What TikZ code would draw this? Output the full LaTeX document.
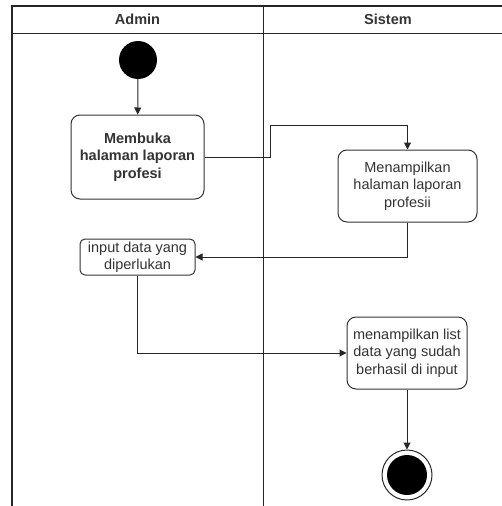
\documentclass[tikz,border=0pt]{standalone}
\usepackage{fontspec}
\setmainfont{Liberation Sans}
\usetikzlibrary{arrows.meta}
\tikzset{
  lane/.style={draw=black!85,line width=1pt},
  act/.style={draw=black!80,line width=1pt,rounded corners=9pt,align=center,
    inner sep=0pt,text=black!80,font=\fontsize{14.5}{17.5}\selectfont},
  flow/.style={draw=black!85,line width=1pt,-{Triangle[length=7pt,width=7pt]}},
}
\begin{document}
\begin{tikzpicture}[x=1pt,y=-1pt]
        \useasboundingbox (0,0) rectangle (502,506);
        %% swimlanes
        \draw[lane,line width=1.4pt] (12,506) -- (12,6) -- (502,6);
        \draw[lane] (12,33) -- (502,33);
        \draw[lane] (263,6) -- (263,506);
        \node[text=black!80,font=\bfseries\fontsize{14.5}{17}\selectfont] (admin) at (137.5,19.5) {Admin};
        \node[text=black!80,font=\bfseries\fontsize{14.5}{17}\selectfont] (sistem) at (388,19.5) {Sistem};
        %% start
        \node[circle,fill=black,minimum size=38pt,inner sep=0pt] (start) at (138,60) {};
        %% activities
        \node[act,minimum width=133pt,minimum height=84pt,font=\bfseries\fontsize{14.5}{17.5}\selectfont] (membuka) at (137.5,157) {Membuka\\halaman laporan\\profesi};
        \node[act,minimum width=139pt,minimum height=72pt] (tampil) at (407.5,186) {Menampilkan\\halaman laporan\\profesii};
        \node[act,rounded corners=5pt,minimum width=115pt,minimum height=36pt] (input) at (137.5,257) {input data yang\\diperlukan};
        \node[act,minimum width=120pt,minimum height=72pt] (list) at (407,353) {menampilkan list\\data yang sudah\\berhasil di input};
        %% end
        \node[circle,draw=black!85,line width=1pt,minimum size=50pt,inner sep=0pt] (end) at (407,475) {};
        \node[circle,fill=black,minimum size=40pt,inner sep=0pt] (endin) at (end) {};
        %% flows
        \coordinate (bend) at (270,125);
        \draw[flow] (start) -- (membuka);
        \draw[flow] (membuka.east) -| (bend) -| (tampil.north);
        \draw[flow] (tampil.south) |- (input.east);
        \draw[flow] (input.south) |- (list.west);
        \draw[flow] (list.south) -- (end.north);
    \end{tikzpicture}
\end{document}
